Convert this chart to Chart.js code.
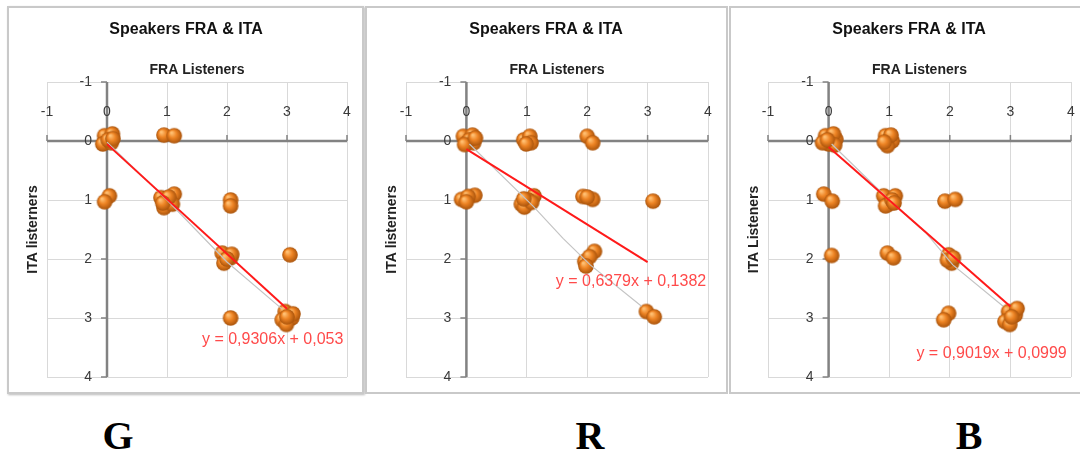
<!DOCTYPE html>
<html><head><meta charset="utf-8">
<script src="https://cdn.jsdelivr.net/npm/chart.js@4.4.1/dist/chart.umd.min.js"></script>
<style>
html,body{margin:0;padding:0;background:#fff;width:1080px;height:455px;overflow:hidden;position:relative;font-family:"Liberation Sans",Arial,sans-serif}
.frame{position:absolute;box-sizing:border-box;border:2px solid #c9c9c9;}
.cv{position:absolute;}
.lab{position:absolute;top:416px;width:80px;text-align:center;font-family:"Liberation Serif","DejaVu Serif",serif;font-weight:bold;font-size:40px;line-height:40px;color:#000;}
</style></head><body>
<div class="frame" style="left:7px;top:6px;width:357px;height:388px;box-shadow:1px 1px 2px #bbb"></div>
<div class="frame" style="left:365px;top:6px;width:363px;height:388px"></div>
<div class="frame" style="left:729px;top:6px;width:360px;height:388px"></div>
<canvas id="cG" class="cv" width="355" height="386" style="left:8px;top:7px"></canvas>
<canvas id="cR" class="cv" width="361" height="386" style="left:366px;top:7px"></canvas>
<canvas id="cB" class="cv" width="350" height="386" style="left:730px;top:7px"></canvas>
<div class="lab" style="left:78px">G</div>
<div class="lab" style="left:550px">R</div>
<div class="lab" style="left:929px">B</div>
<script>
// ---- tick labels & texts ----
const xTicks = [-1, 0, 1, 2, 3, 4];
const yTicks = [-1, 0, 1, 2, 3, 4];
const chartTitle = 'Speakers FRA & ITA';
const xTitle = 'FRA Listeners';
const yTitleG = 'ITA listerners';
const yTitleR = 'ITA listerners';
const yTitleB = 'ITA Listeners';
const eqG = 'y = 0,9306x + 0,053';
const eqR = 'y = 0,6379x + 0,1382';
const eqB = 'y = 0,9019x + 0,0999';

// ---- panel G : FRA listeners (x) vs ITA listeners (y) ----
const gX = [-0.04,0.09,-0.07,0.07,0.02,0.10, 0.95,1.12, 0.04,-0.04, 0.90,1.12,0.99,0.95,1.09,1.03,0.93, 2.06,2.06, 1.92,2.06,1.95,2.08,2.00, 3.05, 2.06, 2.97,3.08,2.92,2.99,3.10,3.00];
const gY = [-0.09,-0.12,0.05,0.03,-0.02,-0.04, -0.10,-0.09, 0.93,1.03, 0.96,0.90,1.04,1.13,1.07,0.95,1.05, 1.00,1.10, 1.90,1.98,2.07,1.92,2.00, 1.93, 3.00, 2.89,3.00,3.03,3.11,2.93,2.98];
const gTrendX = [0, 3];
const gTrendY = [0.053, 2.845];
const gGrayX = [0, 1, 2, 2.92];
const gGrayY = [0.02, 1.0, 2.05, 2.85];

// ---- panel R ----
const rX = [-0.05,0.10,0.00,0.12,0.05,-0.03,0.15, 0.95,1.05,1.07,0.99, 2.00,2.09, -0.08,0.14,0.03,0.00, 0.91,1.12,1.02,0.96,1.08,0.95, 1.93,2.09,2.00, 3.09, 1.96,2.12,2.04,1.98, 2.98,3.11];
const rY = [-0.08,-0.10,0.04,0.03,-0.02,0.06,-0.05, -0.02,-0.08,0.03,0.05, -0.08,0.03, 0.99,0.92,0.94,1.03, 1.07,0.93,1.00,1.12,1.04,0.98, 0.94,0.99,0.95, 1.02, 2.04,1.87,1.96,2.12, 2.89,2.98];
const rTrendX = [0, 3];
const rTrendY = [0.138, 2.052];
const rGrayX = [0.05, 1.1, 1.6, 2.05, 2.9];
const rGrayY = [0.05, 1.1, 1.65, 2.1, 2.8];

// ---- panel B ----
const bX = [-0.05,0.12,0.00,-0.10,0.08,0.10,-0.02, 0.94,1.05,0.97,1.03,0.92, -0.08,0.06, 0.91,1.10,0.99,0.94,1.05,1.08, 1.92,2.09, 0.05, 0.97,1.07, 1.98,2.03,1.96,2.06, 1.98,1.90, 2.97,3.08,2.91,2.99,3.11,3.02];
const bY = [-0.09,-0.03,0.05,0.03,-0.12,0.07,-0.02, -0.09,0.00,0.08,-0.10,0.02, 0.90,1.02, 0.93,0.93,1.07,1.10,1.00,1.05, 1.02,0.99, 1.94, 1.90,1.98, 1.93,2.07,2.02,1.98, 2.92,3.03, 2.89,2.95,3.06,3.11,2.84,2.98];
const bTrendX = [0, 3];
const bTrendY = [0.1, 2.806];
const bGrayX = [0.05, 1.0, 1.6, 2.05, 2.88];
const bGrayY = [0.05, 1.0, 1.55, 2.1, 2.8];

function sphere(r){
  const s = Math.ceil(r*2+2), c = document.createElement('canvas');
  c.width = c.height = s;
  const g = c.getContext('2d'), cx = s/2, cy = s/2;
  const gr = g.createRadialGradient(cx-r*0.35, cy-r*0.4, r*0.1, cx, cy, r);
  gr.addColorStop(0, '#ffbf72');
  gr.addColorStop(0.45, '#ee8424');
  gr.addColorStop(1, '#a9530b');
  g.fillStyle = gr; g.beginPath(); g.arc(cx, cy, r, 0, Math.PI*2); g.fill();
  return c;
}
const ball = sphere(7.8);

function fmt(v){ return String(v); }

const excelAxes = {
  id: 'excelAxes',
  beforeDatasetsDraw(chart){
    const ctx = chart.ctx, x = chart.scales.x, y = chart.scales.y;
    const x0 = x.getPixelForValue(0), y0 = y.getPixelForValue(0);
    const xa = x.getPixelForValue(xTicks[0]), xb = x.getPixelForValue(xTicks[xTicks.length-1]);
    const ya = y.getPixelForValue(yTicks[0]), yb = y.getPixelForValue(yTicks[yTicks.length-1]);
    ctx.save();
    ctx.strokeStyle = '#828282'; ctx.lineWidth = 2.5;
    ctx.beginPath(); ctx.moveTo(xa, y0); ctx.lineTo(xb, y0); ctx.moveTo(x0, ya); ctx.lineTo(x0, yb); ctx.stroke();
    ctx.lineWidth = 1.5; ctx.beginPath();
    xTicks.forEach(v => { const p = x.getPixelForValue(v); ctx.moveTo(p, y0); ctx.lineTo(p, y0-6); });
    yTicks.forEach(v => { const p = y.getPixelForValue(v); ctx.moveTo(x0, p); ctx.lineTo(x0-6, p); });
    ctx.stroke();
    ctx.fillStyle = '#3a3a3a'; ctx.font = '14px "Liberation Sans"';
    ctx.textAlign = 'center'; ctx.textBaseline = 'middle';
    xTicks.forEach(v => ctx.fillText(fmt(v), x.getPixelForValue(v), y0-29));
    ctx.textAlign = 'right';
    yTicks.forEach(v => ctx.fillText(fmt(v), x0-15, y.getPixelForValue(v)));
    ctx.restore();
  },
  afterDatasetsDraw(chart, args, o){
    const ctx = chart.ctx, x = chart.scales.x, y = chart.scales.y;
    ctx.save();
    ctx.fillStyle = '#ff4a4a'; ctx.font = '16px "Liberation Sans"';
    ctx.textAlign = 'right'; ctx.textBaseline = 'middle';
    ctx.fillText(o.eq, x.getPixelForValue(o.ex), y.getPixelForValue(o.ey));
    ctx.restore();
  }
};

function pts(xs, ys){ return xs.map((v, i) => ({x: v, y: ys[i]})); }

function makeChart(id, xs, ys, tX, tY, grX, grY, yTitle, eq, ex, ey, padL, padR){
  const gridOpt = {color: '#d9d9d9', lineWidth: 1, drawTicks: false};
  const tFont = {family: 'Liberation Sans', size: 14, weight: 'bold'};
  new Chart(document.getElementById(id), {
    type: 'scatter',
    data: {datasets: [
      {data: pts(tX, tY), showLine: true, borderColor: '#ff1a1a', borderWidth: 2, pointRadius: 0, order: 0},
      {data: pts(grX, grY), showLine: true, borderColor: '#c4c4c4', borderWidth: 1.2, pointRadius: 0, order: 1},
      {data: pts(xs, ys), pointStyle: ball, pointRadius: 8, order: 2}
    ]},
    options: {
      responsive: false, animation: false,
      layout: {padding: {left: padL, right: padR, top: 0, bottom: 16}},
      plugins: {
        legend: {display: false}, tooltip: {enabled: false},
        title: {display: true, text: chartTitle, color: '#111',
                font: {family: 'Liberation Sans', size: 16, weight: 'bold'},
                padding: {top: 13, bottom: 21}},
        excelAxes: {eq: eq, ex: ex, ey: ey}
      },
      scales: {
        x: {type: 'linear', position: 'top', min: -1, max: 4,
            ticks: {display: false, stepSize: 1}, grid: gridOpt, border: {display: false},
            title: {display: true, text: xTitle, color: '#222', font: tFont, padding: {top: 2, bottom: 3}}},
        y: {type: 'linear', position: 'left', reverse: true, min: -1, max: 4,
            ticks: {display: false, stepSize: 1}, grid: gridOpt, border: {display: false},
            title: {display: true, text: yTitle, color: '#222', font: tFont, padding: {top: 0, bottom: 5}}}
      }
    },
    plugins: [excelAxes]
  });
}

makeChart('cG', gX, gY, gTrendX, gTrendY, gGrayX, gGrayY, yTitleG, eqG, 3.94, 3.37, 17.2, 16);
makeChart('cR', rX, rY, rTrendX, rTrendY, rGrayX, rGrayY, yTitleR, eqR, 3.97, 2.38, 18.2, 19);
makeChart('cB', bX, bY, bTrendX, bTrendY, bGrayX, bGrayY, yTitleB, eqB, 3.93, 3.60, 16.2, 8);
</script>
</body></html>
